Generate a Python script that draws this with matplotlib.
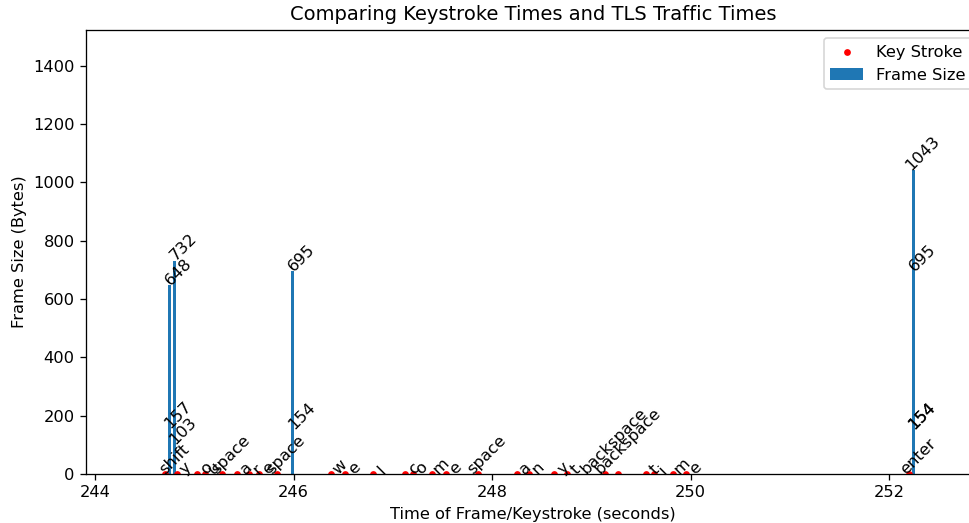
import matplotlib
matplotlib.use("Agg")
import matplotlib.pyplot as plt
from matplotlib.transforms import offset_copy

# keystroke times (seconds) and the key that was pressed
key_times = [244.705, 244.826, 245.027, 245.108, 245.279, 245.430, 245.551, 245.652,
             245.833, 246.374, 246.518, 246.797, 247.122, 247.200, 247.391, 247.535,
             247.855, 248.248, 248.372, 248.626, 248.751, 249.137, 249.271, 249.550,
             249.631, 249.825, 249.953, 252.202]
key_names = ['shift', 'y', 'o', 'u', 'space', 'a', 'r', 'e',
             'space', 'w', 'e', 'l', 'c', 'o', 'm', 'e',
             'space', 'a', 'n', 'y', 't', 'backspace', 'backspace', 't',
             'i', 'm', 'e', 'enter']

# TLS frames: time (seconds) and size (bytes)
frame_times = [244.748, 244.748, 244.799, 244.799, 245.991, 245.991,
               252.242, 252.242, 252.242, 252.242]
frame_sizes = [648, 157, 732, 103, 695, 154,
               1043, 695, 154, 154]

DPI = 117
fig = plt.figure(figsize=(969 / DPI, 523 / DPI), dpi=DPI)
ax = fig.add_axes([86 / 969, 49 / 523, 894 / 969, 444 / 523])

ax.bar(frame_times, frame_sizes, width=0.025, label='Frame Size', zorder=1)
ax.scatter(key_times, [0] * len(key_times), color='red', s=10, label='Key Stroke', zorder=2)

# labels sit a little to the right of their mark
label_tf = offset_copy(ax.transData, fig=fig, x=9, y=0, units='dots')
for t, size in zip(frame_times, frame_sizes):
    ax.text(t, size, str(size), rotation=45, ha='center', transform=label_tf)
for t, name in zip(key_times, key_names):
    ax.text(t, 0, name, rotation=45, ha='center', transform=label_tf)

ax.set_xlim(243.909, 252.914)
ax.set_ylim(0, 1523)
ax.set_title('Comparing Keystroke Times and TLS Traffic Times')
ax.set_xlabel('Time of Frame/Keystroke (seconds)')
ax.set_ylabel('Frame Size (Bytes)')
ax.legend(loc='upper right')

fig.savefig('out.png', dpi=DPI)
